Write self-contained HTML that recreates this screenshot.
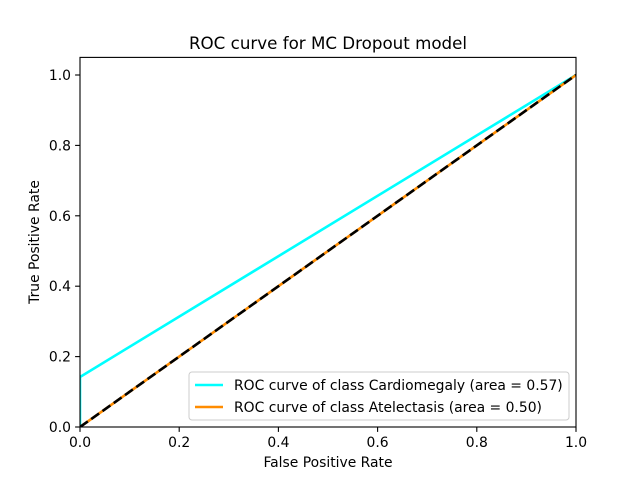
<!DOCTYPE html>
<html><head><meta charset="utf-8"><style>
body{margin:0;background:#fff;}
text{font-family:"DejaVu Sans","Liberation Sans",sans-serif;fill:#000;}
</style></head><body>
<svg id="chart" width="640" height="480" xmlns="http://www.w3.org/2000/svg">
<text x="328" y="49" font-size="16.7" text-anchor="middle">ROC curve for MC Dropout model</text>
<g id="plot"></g>
<text x="328" y="467" font-size="13.9" text-anchor="middle">False Positive Rate</text>
<text transform="translate(39,242) rotate(-90)" font-size="13.9" text-anchor="middle">True Positive Rate</text>
</svg>
<script>
const xTicks=[0,0.2,0.4,0.6,0.8,1.0];
const yTicks=[0,0.2,0.4,0.6,0.8,1.0];
const cardioFpr=[0,0,1];
const cardioTpr=[0,0.142,1];
const ateleFpr=[0,1];
const ateleTpr=[0,1];
const chanceX=[0,1];
const chanceY=[0,1];
const legendLabels=["ROC curve of class Cardiomegaly (area = 0.57)","ROC curve of class Atelectasis (area = 0.50)"];
const L=80,R=576,T=57.4,B=427;
const sx=v=>L+v*(R-L);
const sy=v=>B-v/1.05*(B-T);
const NS="http://www.w3.org/2000/svg";
const g=document.getElementById('plot');
function mk(t,a,p){const e=document.createElementNS(NS,t);for(const k in a)e.setAttribute(k,a[k]);(p||g).appendChild(e);return e;}
const clip=mk('clipPath',{id:'c'});mk('rect',{x:L,y:T,width:R-L,height:B-T},clip);
const cg=mk('g',{'clip-path':'url(#c)'});
function cl(xs,ys,color,w,dash,name){const e=mk('polyline',{points:xs.map((x,i)=>sx(x)+','+sy(ys[i])).join(' '),fill:'none',stroke:color,'stroke-width':w,'stroke-dasharray':dash||'none'},cg);

}
cl(cardioFpr,cardioTpr,'#00ffff',2.6,null,'cardiomegaly-curve');
cl(ateleFpr,ateleTpr,'#ff8c00',2.6,null,'atelectasis-curve');
cl(chanceX,chanceY,'#000',2.6,'9.6,4.2','chance-line');
const frame=mk('rect',{x:L,y:T,width:R-L,height:B-T,fill:'none',stroke:'#000','stroke-width':1.1});


xTicks.forEach(v=>{const x=sx(v);mk('line',{x1:x,y1:B,x2:x,y2:B+4.9,stroke:'#000','stroke-width':1.1});
const t=mk('text',{x:x,y:B+20,'font-size':13.9,'text-anchor':'middle'});t.textContent=v.toFixed(1);

});
yTicks.forEach(v=>{const y=sy(v);mk('line',{x1:L-4.9,y1:y,x2:L,y2:y,stroke:'#000','stroke-width':1.1});
const t=mk('text',{x:L-9,y:y+5,'font-size':13.9,'text-anchor':'end'});t.textContent=v.toFixed(1);

});
const lg=mk('g',{});


mk('rect',{x:189,y:372,width:380,height:48,rx:3,fill:'#fff','fill-opacity':0.8,stroke:'#ccc'},lg);
const cols=['#00ffff','#ff8c00'];
legendLabels.forEach((s,i)=>{const y=385+i*22;
mk('line',{x1:195,y1:y,x2:223,y2:y,stroke:cols[i],'stroke-width':2.6},lg);
const t=mk('text',{x:234,y:y+5,'font-size':13.9},lg);t.textContent=s;

});
</script>
</body></html>
